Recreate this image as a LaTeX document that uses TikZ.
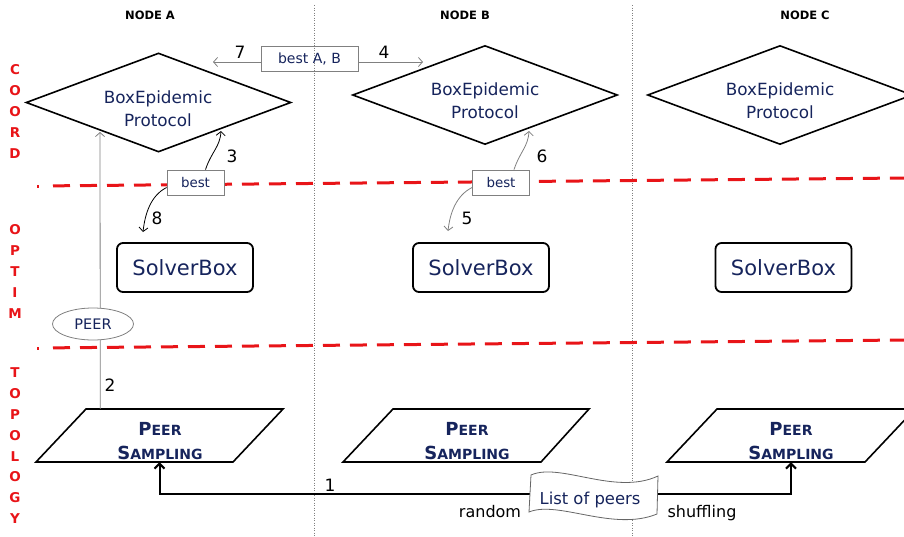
\documentclass[tikz,border=0pt]{standalone}
\usepackage{fontspec}
\setmainfont{DejaVu Sans}
\usetikzlibrary{shapes.geometric,arrows.meta}
\definecolor{navy}{RGB}{22,36,92}
\definecolor{redc}{RGB}{232,20,24}
\definecolor{grayl}{RGB}{128,128,128}
\newcommand{\myscap}[2]{{\fontsize{18}{24}\selectfont #1}#2}
\begin{document}
\begin{tikzpicture}[x=1pt,y=-1pt,
 hdr/.style={font=\bfseries\fontsize{11.5}{12}\selectfont, inner sep=0},
 redlab/.style={text=redc, font=\bfseries\fontsize{13.5}{12}\selectfont, inner sep=0},
 diam/.style={draw, line width=1.6, shape=diamond, minimum width=265, minimum height=99, inner sep=0, aspect=2.68},
 dtext/.style={text=navy, align=center, font=\fontsize{16.8}{23}\selectfont, inner sep=0},
 solver/.style={draw, line width=1.8, rounded corners=6, minimum width=136, minimum height=49, inner sep=0, text=navy, font=\fontsize{21}{21}\selectfont},
 parabox/.style={minimum width=197, minimum height=53, inner sep=0},
 paraline/.style={draw, line width=1.6, line join=miter},
 ptext/.style={text=navy, align=center, font=\bfseries\fontsize{14}{24}\selectfont, inner sep=0},
 bestbox/.style={draw=grayl, fill=white, line width=0.8, text=navy, font=\fontsize{13.4}{14}\selectfont, minimum width=57, minimum height=25, inner sep=0},
 num/.style={font=\fontsize{17}{17}\selectfont, inner sep=0},
 plain/.style={font=\fontsize{16}{16}\selectfont, inner sep=0},
 garr/.style={draw=grayl, line width=0.8, -{Straight Barb[length=4pt,width=9pt]}},
 barr/.style={draw=black, line width=0.8, -{Straight Barb[length=4pt,width=9pt]}},
 thickarr/.style={draw=black, line width=2, -{Straight Barb[length=5pt,width=10pt]}},
 reddash/.style={draw=redc, line width=3, dash pattern=on 17pt off 10pt},
 sep/.style={draw=grayl, line width=0.8, dash pattern=on 1pt off 1.5pt}
 ]
\useasboundingbox (0,0) rectangle (904,536);
% separators
\draw[sep] (314,5) -- (314,536);
\draw[sep] (632,5) -- (632,536);
\draw[draw=redc, line width=3] (37,186) -- (39,186);
\draw[reddash] (53,185.85) -- (904,178);
\draw[draw=redc, line width=3] (37,348) -- (39,348);
\draw[reddash] (53,347.85) -- (904,340);
% headers
\node[hdr] (hA) at (150,15) {NODE A};
\node[hdr] (hB) at (465,15) {NODE B};
\node[hdr] (hC) at (805,15) {NODE C};
% red side labels
\foreach \l [count=\i] in {C,O,O,R,D} \node[redlab] (rc\i) at (15,{70+20.8*(\i-1)}) {\l};
\foreach \l [count=\i] in {O,P,T,I,M} \node[redlab] (ro\i) at (15,{230+20.8*(\i-1)}) {\l};
\foreach \l [count=\i] in {T,O,P,O,L,O,G,Y} \node[redlab] (rt\i) at (15,{373+20.8*(\i-1)}) {\l};
% diamonds
\node[diam] (dA) at (158.5,102.5) {};
\node[dtext] (tA) at (158,108.5) {BoxEpidemic\\Protocol};
\node[diam] (dB) at (485,95) {};
\node[dtext] (tB) at (485,100.5) {BoxEpidemic\\Protocol};
\node[diam] (dC) at (780,95) {};
\node[dtext] (tC) at (780,100.5) {BoxEpidemic\\Protocol};
% solver boxes
\node[solver] (sA) at (185,267.5) {SolverBox};
\node[solver] (sB) at (481,267.5) {SolverBox};
\node[solver] (sC) at (783.5,267.5) {SolverBox};
% peer sampling (parallelograms)
\node[parabox] (pA) at (159.5,435.5) {};
\draw[paraline] (36,462) -- (86,409) -- (283,409) -- (233,462) -- cycle;
\node[ptext] (qA) at (160,441) {\myscap{P}{EER}\\\myscap{S}{AMPLING}};
\node[parabox] (pB) at (466,435.5) {};
\draw[paraline] (343,462) -- (393,409) -- (589,409) -- (541,462) -- cycle;
\node[ptext] (qB) at (467,441) {\myscap{P}{EER}\\\myscap{S}{AMPLING}};
\node[parabox] (pC) at (791,435.5) {};
\draw[paraline] (667,462) -- (717,409) -- (915,409) -- (865,462) -- cycle;
\node[ptext] (qC) at (791,441) {\myscap{P}{EER}\\\myscap{S}{AMPLING}};
% best boxes
\node[bestbox] (bA) at (195.5,182.5) {best};
\node[bestbox] (bB) at (501,182.5) {best};
\node[bestbox, minimum width=97, fill=none, font=\fontsize{14}{14}\selectfont] (bAB) at (309.5,58.5) {best A, B};
% arrow end points
\coordinate (t7) at (213,62);
\coordinate (t4) at (423,62);
\coordinate (t3) at (221,131);
\coordinate (t8) at (143,232);
\coordinate (t6) at (529,131);
\coordinate (t5) at (448,231);
\coordinate (t2) at (100,132);
\coordinate (lL) at (530,494);
\coordinate (lR) at (658,494);
% arrows
\draw[garr] ([yshift=-3.5pt]bAB.west) -- (t7);
\draw[garr] ([yshift=-3.5pt]bAB.east) -- (t4);
\draw[barr] ([xshift=10pt]bA.north) .. controls +(6,-18) and +(-1,16) .. (t3);
\draw[barr] ([yshift=-5pt]bA.west) .. controls +(-16,8) and +(2,-18) .. (t8);
\draw[garr] ([xshift=13pt]bB.north) .. controls +(6,-18) and +(-1,16) .. (t6);
\draw[garr] ([yshift=-5pt]bB.west) .. controls +(-16,8) and +(2,-18) .. (t5);
\draw[garr] ([xshift=39.5pt]pA.north west) -- (t2);
\node[draw=grayl, fill=white, line width=0.8, ellipse, minimum width=81, minimum height=32, inner sep=0, text=navy, font=\fontsize{14.5}{15}\selectfont] (peer) at (93,324) {PEER};
\draw[thickarr] (lL) -| (pA.south);
\draw[thickarr] (lR) -| (pC.south);
% banner
\draw[draw=gray!80!black, fill=white, line width=0.8] (531,475) .. controls (560,462) and (615,496) .. (658,476) -- (657,514) .. controls (613,532) and (558,500) .. (529,512) -- cycle;
\node[text=navy, font=\fontsize{16.4}{17}\selectfont, inner sep=0] (lop) at (590,500) {List of peers};
\node[plain] (rnd) at (490,512) {random};
\node[plain] (shf) at (702,513) {shuffling};
% numbers
\node[num] (n7) at (240,52) {7};
\node[num] (n4) at (384,52) {4};
\node[num] (n3) at (232,156) {3};
\node[num] (n8) at (157,218) {8};
\node[num] (n6) at (542,156) {6};
\node[num] (n5) at (467,218) {5};
\node[num] (n2) at (110,385) {2};
\node[num] (n1) at (330,485) {1};
\end{tikzpicture}
\end{document}
